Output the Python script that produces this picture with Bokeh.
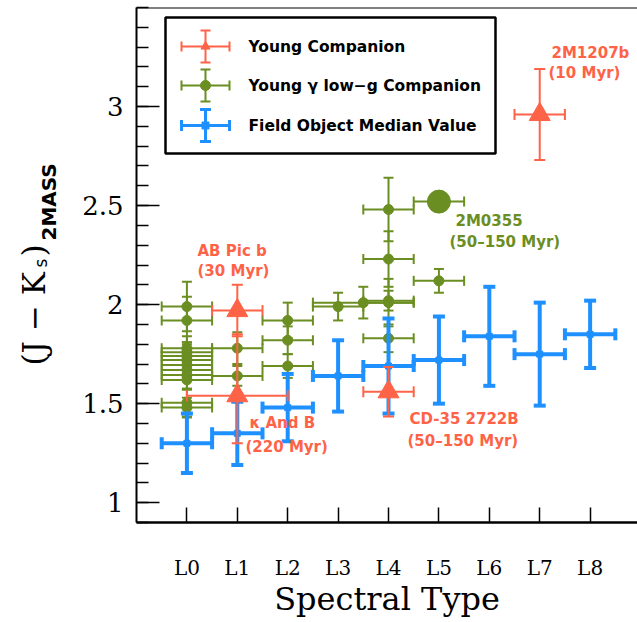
import numpy as np
from bokeh.plotting import figure
from bokeh.layouts import row
from bokeh.models import Range1d, LinearAxis, FixedTicker, Label, Span
from bokeh.embed import file_html
from bokeh.resources import INLINE

# ---------------- data ----------------
spt_tick_values = [0, 1, 2, 3, 4, 5, 6, 7, 8]
spt_tick_labels = ["L0", "L1", "L2", "L3", "L4", "L5", "L6", "L7", "L8"]
jk_tick_values = [1, 1.5, 2, 2.5, 3]
jk_tick_labels = ["1", "1.5", "2", "2.5", "3"]

# Field object median values (blue)
field_spt = [0, 1, 2, 3, 4, 5, 6, 7, 8]
field_jk = [1.30, 1.35, 1.48, 1.64, 1.69, 1.72, 1.84, 1.75, 1.85]
field_jk_err = [0.15, 0.16, 0.17, 0.18, 0.24, 0.22, 0.25, 0.26, 0.17]
field_spt_err = [0.5, 0.5, 0.5, 0.5, 0.5, 0.5, 0.5, 0.5, 0.5]

# Young gamma low-g companions (green)
gam_spt = [0, 0, 0, 0, 0, 0, 0, 0, 0, 0, 0, 0,
           1, 1, 2, 2, 2, 3, 3.5, 4, 4, 4, 4, 4, 5]
gam_jk = [1.99, 1.92, 1.78, 1.76, 1.74, 1.72, 1.695, 1.67, 1.645, 1.62, 1.505, 1.48,
          1.78, 1.64, 1.92, 1.82, 1.69, 1.99, 2.01, 2.48, 2.23, 2.02, 2.01, 1.83, 2.12]
gam_jk_err = [0.125, 0.12, 0.06, 0.05, 0.07, 0.05, 0.06, 0.05, 0.07, 0.05, 0.07, 0.05,
              0.08, 0.05, 0.09, 0.07, 0.06, 0.07, 0.08, 0.16, 0.14, 0.05, 0.12, 0.07, 0.06]
gam_spt_err = [0.5, 0.5, 0.5, 0.5, 0.5, 0.5, 0.5, 0.5, 0.5, 0.5, 0.5, 0.5,
               0.5, 0.5, 0.5, 0.5, 0.5, 0.5, 1.0, 0.5, 0.5, 0.5, 0.5, 0.5, 0.5]

# 2M0355 (large green point)
big_spt = [5]
big_jk = [2.52]
big_jk_err = [0.03]
big_spt_err = [0.5]

# Young companions (red): 2M1207b, AB Pic b, kappa And B, CD-35 2722B
comp_names = ["2M1207b", "AB Pic b", "κ And B", "CD-35 2722B"]
comp_spt = [7, 1, 1, 4]
comp_jk = [2.96, 1.97, 1.54, 1.56]
comp_jk_err_hi = [0.23, 0.13, 0.31, 0.125]
comp_jk_err_lo = [0.23, 0.13, 0.24, 0.125]
comp_spt_err = [0.5, 0.5, 1.0, 0.5]

RED = "#FF6347"
GREEN = "#6B8E23"
BLUE = "#1E90FF"

# ---------------- layout ----------------
W, H = 637, 622
LW = 70                                    # width of the y-title strip
FL, FT, FR, FB = 136, 7, 637, 522          # frame edges in page pixels
X0, X1 = -1.0, 8.94
Y0, Y1 = 0.9, 3.5


def dx(px):
    return X0 + (px - FL) * (X1 - X0) / (FR - FL)


def dy(py):
    return Y1 - (py - FT) * (Y1 - Y0) / (FB - FT)


PXX = (FR - FL) / (X1 - X0)   # pixels per x unit
PXY = (FB - FT) / (Y1 - Y0)   # pixels per y unit

p = figure(width=W - LW, height=H, x_range=Range1d(X0, X1), y_range=Range1d(Y0, Y1),
           output_backend="svg", toolbar_location=None,
           x_axis_type=None, y_axis_type=None,
           min_border_left=FL - LW, min_border_right=W - FR,
           min_border_top=FT, min_border_bottom=H - FB)
p.outline_line_color = None
p.xgrid.visible = False
p.ygrid.visible = False
p.background_fill_color = "white"
p.border_fill_color = "white"

xaxis = LinearAxis(ticker=FixedTicker(ticks=spt_tick_values, minor_ticks=[]))
xaxis.major_label_overrides = {v: l for v, l in zip(spt_tick_values, spt_tick_labels)}
xaxis.major_tick_in = 15
xaxis.major_tick_out = 0
xaxis.major_tick_line_width = 1.5
xaxis.axis_line_width = 2.5
xaxis.major_label_standoff = 33
xaxis.major_label_text_font = "DejaVu Serif"
xaxis.major_label_text_font_size = "20px"
xaxis.major_label_text_color = "black"
xaxis.axis_label = "Spectral Type"
xaxis.axis_label_text_font = "DejaVu Serif"
xaxis.axis_label_text_font_style = "normal"
xaxis.axis_label_text_font_size = "32px"
xaxis.axis_label_text_color = "black"
xaxis.axis_label_standoff = -3
p.add_layout(xaxis, "below")

minor_y = [round(0.9 + 0.1 * i, 2) for i in range(27)]
yaxis = LinearAxis(ticker=FixedTicker(ticks=jk_tick_values, minor_ticks=minor_y))
yaxis.major_label_overrides = {v: l for v, l in zip(jk_tick_values, jk_tick_labels)}
yaxis.major_tick_in = 23
yaxis.major_tick_out = 0
yaxis.minor_tick_in = 12
yaxis.minor_tick_out = 0
yaxis.major_tick_line_width = 1.5
yaxis.minor_tick_line_width = 1.5
yaxis.axis_line_width = 2
yaxis.major_label_standoff = 13
yaxis.major_label_text_font = "DejaVu Serif"
yaxis.major_label_text_font_size = "26px"
yaxis.major_label_text_color = "black"
p.add_layout(yaxis, "left")

p.add_layout(Span(location=Y1, dimension="width", line_color="black", line_width=2))


def errorbars(x, y, xe, ylo, yhi, color, lw, cap):
    x = np.asarray(x, float)
    y = np.asarray(y, float)
    xe = np.asarray(xe, float)
    ylo = np.asarray(ylo, float)
    yhi = np.asarray(yhi, float)
    p.segment(x, y - ylo, x, y + yhi, line_color=color, line_width=lw)
    p.segment(x - xe, y, x + xe, y, line_color=color, line_width=lw)
    p.scatter(np.concatenate([x, x]), np.concatenate([y - ylo, y + yhi]),
              marker="dash", size=cap, line_color=color, line_width=lw)
    p.scatter(np.concatenate([x - xe, x + xe]), np.concatenate([y, y]),
              marker="dash", angle=np.pi / 2, size=cap, line_color=color, line_width=lw)


# green
errorbars(gam_spt, gam_jk, gam_spt_err, gam_jk_err, gam_jk_err, GREEN, 2, 10)
p.scatter(gam_spt, gam_jk, marker="circle", size=10, fill_color=GREEN, line_color=GREEN)
errorbars(big_spt, big_jk, big_spt_err, big_jk_err, big_jk_err, GREEN, 2, 10)
p.scatter(big_spt, big_jk, marker="circle", size=23, fill_color=GREEN, line_color=GREEN)

# blue
errorbars(field_spt, field_jk, field_spt_err, field_jk_err, field_jk_err, BLUE, 4, 12)
p.scatter(field_spt, field_jk, marker="square", size=6, fill_color=BLUE, line_color=BLUE)

# red
errorbars(comp_spt, comp_jk, comp_spt_err, comp_jk_err_lo, comp_jk_err_hi, RED, 2, 11)
p.scatter(comp_spt, comp_jk, marker="triangle", size=21, fill_color=RED, line_color=RED)

# ---------------- legend ----------------
p.quad(left=dx(165), right=dx(495), top=dy(17), bottom=dy(153),
       fill_color="white", line_color="black", line_width=2.5)

legend_entries = [("Young Companion", RED, "triangle", 9, 46, 2, 10),
                  ("Young γ low−g Companion", GREEN, "circle", 10, 85, 2, 10),
                  ("Field Object Median Value", BLUE, "square", 7, 125, 3, 11)]
for txt, col, mk, ms, py, lw, cap in legend_entries:
    cx, cy = dx(205), dy(py)
    hx, hy = 24 / PXX, 16 / PXY
    p.segment([cx - hx], [cy], [cx + hx], [cy], line_color=col, line_width=lw)
    p.segment([cx], [cy - hy], [cx], [cy + hy], line_color=col, line_width=lw)
    p.scatter([cx, cx], [cy - hy, cy + hy], marker="dash", size=cap, line_color=col, line_width=lw)
    p.scatter([cx - hx, cx + hx], [cy, cy], marker="dash", angle=np.pi / 2, size=cap,
              line_color=col, line_width=lw)
    p.scatter([cx], [cy], marker=mk, size=ms, fill_color=col, line_color=col)
    p.add_layout(Label(x=dx(248), y=cy, text=txt, text_font="DejaVu Sans",
                       text_font_style="bold", text_font_size="15.5px",
                       text_color="black", text_baseline="middle", text_align="left"))

# ---------------- annotations ----------------
annots = [("2M1207b", RED, 551, 52), ("(10 Myr)", RED, 548, 72),
          ("AB Pic b", RED, 197, 250), ("(30 Myr)", RED, 197, 270),
          ("2M0355", GREEN, 455, 220), ("(50–150 Myr)", GREEN, 449, 241),
          ("κ And B", RED, 249, 422), ("(220 Myr)", RED, 245, 446),
          ("CD-35 2722B", RED, 409, 418), ("(50–150 Myr)", RED, 407, 440)]
for txt, col, px, py in annots:
    p.add_layout(Label(x=dx(px), y=dy(py), text=txt, text_font="DejaVu Sans",
                       text_font_style="bold", text_font_size="15px",
                       text_color=col, text_baseline="middle", text_align="left"))

# ---------------- y-axis title strip ----------------
# its frame spans the same rows (FT..FB) as the main frame; data y = H - page row
q = figure(width=LW, height=H, x_range=Range1d(0, LW), y_range=Range1d(H - FB, H - FT),
           output_backend="svg", toolbar_location=None,
           x_axis_type=None, y_axis_type=None,
           min_border_left=0, min_border_right=0, min_border_top=FT, min_border_bottom=H - FB)
q.outline_line_color = None
q.xgrid.visible = False
q.ygrid.visible = False
q.background_fill_color = "white"
q.border_fill_color = "white"

ylab_parts = [("(J − K", "DejaVu Serif", "normal", "31px", 33, 365),
              ("s", "DejaVu Sans", "normal", "17px", 40, 267),
              (")", "DejaVu Serif", "normal", "31px", 33, 256),
              ("2MASS", "DejaVu Sans", "bold", "20px", 48, 240)]
for txt, font, style, size, px, py in ylab_parts:
    q.add_layout(Label(x=px, y=H - py, text=txt, text_font=font,
                       text_font_style=style, text_font_size=size, text_color="black",
                       angle=90, angle_units="deg",
                       text_align="left", text_baseline="alphabetic"))

layout = row(q, p)
open("out.html", "w").write(file_html(layout, INLINE))
